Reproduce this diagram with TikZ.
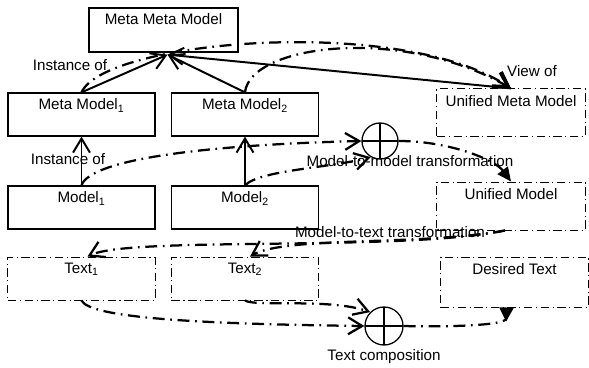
\documentclass[tikz,border=0pt]{standalone}
\usepackage{fontspec}
\setmainfont{Liberation Sans}
\usetikzlibrary{arrows.meta,calc}

\begin{document}
\begin{tikzpicture}[x=0.025cm, y=-0.025cm, >={Straight Barb[length=10pt,width=12pt]},
  font=\fontsize{10.8}{13}\selectfont,
  box/.style={draw, line width=0.9pt, minimum width=3.675cm, minimum height=1.075cm,
    label={[anchor=north, inner sep=4.5pt]north:#1}},
  dbox/.style={box={#1}, line width=0.7pt, dash pattern=on 6pt off 2.5pt on 0.8pt off 2.5pt},
  flow/.style={line width=1.6pt, dash pattern=on 8.5pt off 4pt on 1.2pt off 4pt},
  inst/.style={line width=1.4pt, ->},
  plus/.style={draw, circle, line width=0.9pt, minimum size=0.9cm,
    path picture={\draw[line width=0.9pt] (path picture bounding box.north) -- (path picture bounding box.south)
      (path picture bounding box.west) -- (path picture bounding box.east);}},
  filltip/.style={-{Triangle[length=10pt,width=9pt]}},
  viewtip/.style={-{Straight Barb[length=10pt,width=12pt,line width=2.3pt]}}]
\useasboundingbox (0,0) rectangle (589,367);

% models
\node[box={Meta Meta Model}, minimum width=3.725cm, minimum height=1.1cm] (mmm) at (163.5,30) {};
\node[box={Meta Model\textsubscript{1}}] (mm1) at (81.5,114.5) {};
\node[box={Meta Model\textsubscript{2}}] (mm2) at (245,114.5) {};
\node[box={Model\textsubscript{1}}] (m1) at (81.5,207.5) {};
\node[box={Model\textsubscript{2}}] (m2) at (245,207.5) {};
\node[dbox={Text\textsubscript{1}}] (t1) at (81.5,278.5) {};
\node[dbox={Text\textsubscript{2}}] (t2) at (245,278.5) {};
\node[dbox={Unified Meta Model}, minimum width=3.7cm, minimum height=1.18cm] (umm) at (511,112.5) {};
\node[dbox={Unified Model}, minimum width=3.7cm, minimum height=1.2cm] (um) at (511,206) {};
\node[dbox={Desired Text}, minimum height=1.25cm] (dt) at (514.5,282) {};

% operators
\node[plus] (p1) at (380,141) {};
\node[plus, minimum size=0.95cm] (p2) at (384,326) {};

% instance of
\coordinate (hub) at ($(mmm.south)+(4,2)$);
\draw[inst] (mm1.north) -- (hub);
\draw[inst] (mm2.north) -- (hub);
\draw[inst] (umm.north) -- (hub);
\draw[inst] (m1.north) -- (mm1.south);
\draw[inst] (m2.north) -- (mm2.south);

% view of
\draw[flow, viewtip] (mm1.north) .. controls (105,40) and (400,15) .. (umm.north);
\draw[flow, viewtip] (mm2.north) .. controls (250,45) and (400,25) .. (umm.north);

% model-to-model
\draw[flow, ->] (m1.north) .. controls (90,160) and (200,145) .. (p1.west);
\draw[flow, ->] (m2.north) .. controls (260,170) and (330,168) .. (p1.240);
\draw[flow, filltip] (p1.east) .. controls (450,141) and (495,160) .. (um.north);

% model-to-text
\draw[flow, ->] ($(um.south)+(-6,0)$) .. controls (400,252) and (130,236) .. ($(t1.north)+(6,0)$);
\draw[flow, ->] ($(um.south)+(-6,0)$) .. controls (420,246) and (285,236) .. ($(t2.north)+(5,0)$);

% text composition
\draw[flow, ->] (t1.south) .. controls (90,318) and (200,324) .. (p2.west);
\draw[flow, ->] (t2.south) .. controls (255,307) and (330,298) .. (p2.135);
\draw[flow, -{Triangle[reversed,length=10pt,width=10pt]}] (p2.east) .. controls (440,327) and (506,326) .. ($(dt.south)+(-8,0)$);

% labels
\node (inst1) at (70,65) {Instance of};
\node (inst2) at (68,159) {Instance of};
\node (view) at (532,71) {View of};
\node (m2m) at (410,161) {Model-to-model transformation};
\node (m2t) at (390,232) {Model-to-text transformation};
\node (comp) at (384,357) {Text composition};
\end{tikzpicture}
\end{document}
